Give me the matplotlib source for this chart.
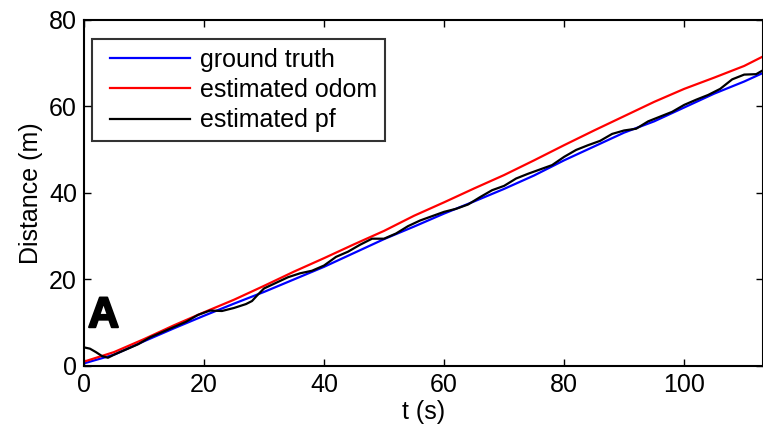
import matplotlib
matplotlib.use("Agg")
import matplotlib.pyplot as plt
import matplotlib.patheffects as pe
from matplotlib.legend_handler import HandlerLine2D

plt.rcParams['font.family'] = ['Liberation Sans', 'DejaVu Sans']

# Ground truth distance (m) vs time (s)
t_truth = [0, 5, 10, 15, 20, 25, 30, 35, 40, 45, 50, 55, 60, 65, 70, 75,
           80, 85, 90, 95, 100, 105, 110, 113]
truth = [0.6, 2.6, 5.7, 8.7, 11.6, 14.4, 17.1, 20.0, 22.9, 26.1, 29.3, 32.2,
         35.2, 38.0, 40.9, 44.0, 47.5, 50.7, 53.9, 56.5, 59.7, 62.9, 65.7, 67.6]

# Odometry-only estimate
t_odom = [0, 5, 10, 15, 20, 25, 30, 35, 40, 45, 50, 55, 60, 65, 70, 75,
          80, 85, 90, 95, 100, 105, 110, 113]
odom = [1.0, 3.2, 6.2, 9.4, 12.4, 15.3, 18.5, 21.8, 24.9, 28.1, 31.2, 34.7,
        37.8, 41.0, 44.1, 47.5, 51.0, 54.4, 57.7, 61.0, 64.0, 66.6, 69.3, 71.4]

# Particle filter estimate
t_pf = [0, 1, 2, 3, 4, 5, 7, 9, 11, 13, 15, 17, 19, 21, 23, 25, 27, 28, 29,
        30, 32, 34, 36, 38, 40, 42, 44, 46, 48, 50, 52, 54, 56, 58, 60, 62,
        64, 66, 68, 70, 72, 74, 76, 78, 80, 82, 84, 86, 88, 90, 92, 94, 96,
        98, 100, 102, 104, 106, 108, 110, 112, 113]
pf = [4.3, 4.0, 3.2, 2.3, 1.9, 2.6, 3.8, 5.0, 6.6, 7.8, 9.0, 10.2, 11.8, 12.8,
      12.7, 13.4, 14.3, 15.0, 16.5, 17.9, 19.2, 20.5, 21.4, 22.0, 23.2, 25.2,
      26.4, 28.0, 29.4, 29.4, 30.6, 32.3, 33.6, 34.6, 35.6, 36.3, 37.3, 39.0,
      40.6, 41.6, 43.3, 44.4, 45.4, 46.4, 48.3, 49.9, 51.0, 52.0, 53.6, 54.4,
      54.8, 56.5, 57.6, 58.7, 60.3, 61.5, 62.6, 64.0, 66.2, 67.3, 67.4, 68.2]

x_ticks = [0, 20, 40, 60, 80, 100]
y_ticks = [0, 20, 40, 60, 80]

FS = 18

fig = plt.figure(figsize=(7.63, 4.36), dpi=100)
ax = fig.add_axes([0.110, 0.1606, 0.8905, 0.7944])

ax.plot(t_truth, truth, color='#0000ff', lw=1.6, label='ground truth')
ax.plot(t_odom, odom, color='#ff0000', lw=1.6, label='estimated odom')
ax.plot(t_pf, pf, color='black', lw=1.6, label='estimated pf')

ax.set_xlim(0, 113.2)
ax.set_ylim(0, 80)
ax.set_xticks(x_ticks)
ax.set_yticks(y_ticks)
ax.tick_params(direction='in', top=True, right=True, length=5, width=1,
               labelsize=FS, pad=5)
for s in ax.spines.values():
    s.set_linewidth(1.5)

ax.set_xlabel('t (s)', fontsize=FS, labelpad=2)
ax.set_ylabel('Distance (m)', fontsize=FS, labelpad=4)

leg = ax.legend(loc='upper left', bbox_to_anchor=(0.012, 0.944), fontsize=FS,
                frameon=True, fancybox=False, edgecolor='black',
                handlelength=3.55, handletextpad=0.4, labelspacing=0.25,
                borderpad=0.35, borderaxespad=0,
                handler_map={ln: HandlerLine2D(xpad=0.35)
                             for ln in ax.get_lines()})
leg.get_frame().set_linewidth(1.5)

ax.text(0.006, 0.112, 'A', transform=ax.transAxes, fontsize=31,
        fontweight='bold', ha='left', va='baseline',
        path_effects=[pe.withStroke(linewidth=1.5, foreground='black')])

fig.savefig('out.png', dpi=100)
